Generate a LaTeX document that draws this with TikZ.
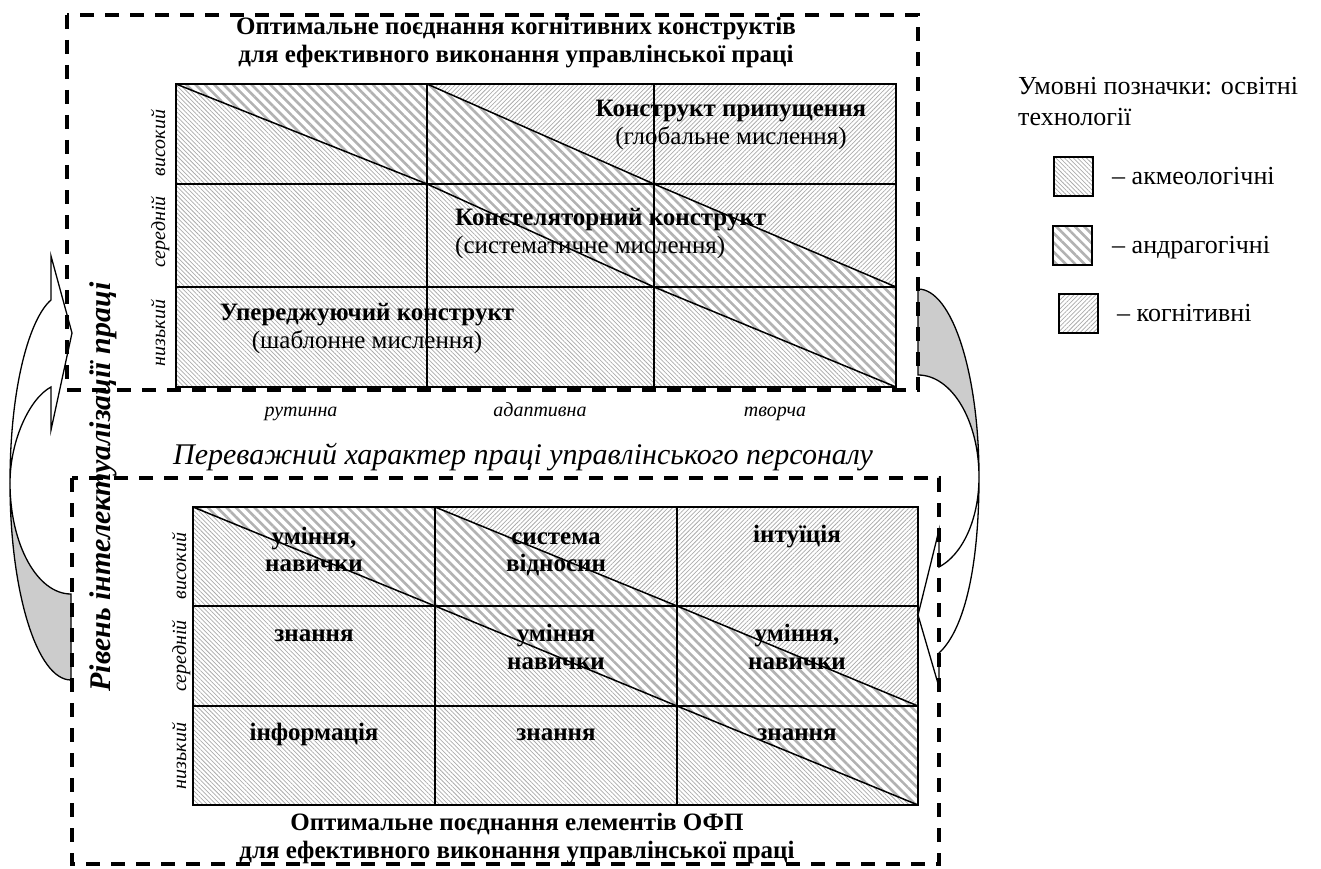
\documentclass[tikz,border=0pt]{standalone}
\usepackage{fontspec}
\setmainfont{Liberation Serif}
\usetikzlibrary{patterns.meta}
\tikzset{
  frameline/.style={line width=3.2pt, dash pattern=on 14pt off 11pt},
  gridline/.style={line width=1.7pt},
  diagline/.style={line width=1.5pt},
  akmeo/.style={pattern={Lines[angle=-45,distance=3.1pt,line width=0.75pt]}, pattern color=black!33},
  andrago/.style={pattern={Lines[angle=-45,distance=6.6pt,line width=2.6pt]}, pattern color=black!30},
  kognit/.style={pattern={Lines[angle=45,distance=3.1pt,line width=0.75pt]}, pattern color=black!33},
  titletext/.style={font=\fontsize{25}{29}\selectfont\bfseries, anchor=base, inner sep=0pt},
  boldtext/.style={font=\fontsize{25}{29}\selectfont\bfseries, anchor=base, inner sep=0pt},
  plaintext/.style={font=\fontsize{25}{29}\selectfont, anchor=base, inner sep=0pt},
  legendtext/.style={font=\fontsize{26}{30}\selectfont, anchor=base west, inner sep=0pt},
  levellabel/.style={font=\fontsize{20}{24}\selectfont\itshape, rotate=90, anchor=base, inner sep=0pt},
  worklabel/.style={font=\fontsize{20}{24}\selectfont\itshape, anchor=base, inner sep=0pt},
  bendarrow/.style={line width=1.3pt, line join=miter},
  legendbox/.style={draw, line width=2pt, minimum size=39pt, inner sep=0pt}
}

\begin{document}
\begin{tikzpicture}[x=1pt,y=-1pt]
\useasboundingbox (0,0) rectangle (1321,869);

% top matrix: cognitive constructs
\path[kognit] (427,84) -- (896,84) -- (896,287) -- (654,184) -- cycle;
\path[andrago] (176,84) -- (427,84) -- (654,184) -- (896,287) -- (896,387) -- (654,287) -- (427,184) -- cycle;
\path[akmeo] (176,84) -- (427,184) -- (654,287) -- (896,387) -- (176,387) -- cycle;
\draw[gridline] (176,84) rectangle (896,387);
\foreach \gx in {427,654} \draw[gridline] (\gx,84) -- (\gx,387);
\foreach \gy in {184,287} \draw[gridline] (176,\gy) -- (896,\gy);
\draw[diagline] (176,84) -- (427,184) -- (654,287) -- (896,387);
\draw[diagline] (427,84) -- (654,184) -- (896,287);

\node[titletext] (toptitleA) at (516,35) {Оптимальне поєднання когнітивних конструктів};
\node[titletext] (toptitleB) at (516,63) {для ефективного виконання управлінської праці};
\node[boldtext] (supposeA) at (731,117) {Конструкт припущення};
\node[plaintext] (supposeB) at (731,145) {(глобальне мислення)};
\node[boldtext, anchor=base west] (constelA) at (455,225) {Констеляторний конструкт};
\node[plaintext, anchor=base west] (constelB) at (455,253) {(систематичне мислення)};
\node[boldtext] (anticipA) at (367,320) {Упереджуючий конструкт};
\node[plaintext] (anticipB) at (367,348) {(шаблонне мислення)};

\node[levellabel] (topHigh) at (165,143) {високий};
\node[levellabel] (topMid) at (165,232) {середній};
\node[levellabel] (topLow) at (165,333) {низький};
\node[worklabel] (routine) at (301,416) {рутинна};
\node[worklabel] (adaptive) at (540,416) {адаптивна};
\node[worklabel] (creative) at (775,416) {творча};
\node[plaintext, font=\fontsize{30}{34}\selectfont\itshape] (workaxis) at (523,464) {Переважний характер праці управлінського персоналу};

% bottom matrix: elements of OFP
\path[kognit] (435,507) -- (918,507) -- (918,706) -- (677,606) -- cycle;
\path[andrago] (193,507) -- (435,507) -- (677,606) -- (918,706) -- (918,805) -- (677,706) -- (435,606) -- cycle;
\path[akmeo] (193,507) -- (435,606) -- (677,706) -- (918,805) -- (193,805) -- cycle;
\draw[gridline] (193,507) rectangle (918,805);
\foreach \gx in {435,677} \draw[gridline] (\gx,507) -- (\gx,805);
\foreach \gy in {606,706} \draw[gridline] (193,\gy) -- (918,\gy);
\draw[diagline] (193,507) -- (435,606) -- (677,706) -- (918,805);
\draw[diagline] (435,507) -- (677,606) -- (918,706);

\node[boldtext] (skillsA) at (314,544) {уміння,};
\node[boldtext] (skillsB) at (314,571) {навички};
\node[boldtext] (relationA) at (556,544) {система};
\node[boldtext] (relationB) at (556,571) {відносин};
\node[boldtext] (intuition) at (797,542) {інтуїція};
\node[boldtext] (knowMid) at (314,641) {знання};
\node[boldtext] (skillsMidA) at (556,641) {уміння};
\node[boldtext] (skillsMidB) at (556,669) {навички};
\node[boldtext] (skillsTopA) at (797,641) {уміння,};
\node[boldtext] (skillsTopB) at (797,669) {навички};
\node[boldtext] (information) at (314,740) {інформація};
\node[boldtext] (knowLowA) at (556,740) {знання};
\node[boldtext] (knowLowB) at (797,740) {знання};

\node[levellabel] (botHigh) at (186,566) {високий};
\node[levellabel] (botMid) at (186,656) {середній};
\node[levellabel] (botLow) at (186,756) {низький};
\node[titletext] (bottitleA) at (517,830) {Оптимальне поєднання елементів ОФП};
\node[titletext] (bottitleB) at (517,858) {для ефективного виконання управлінської праці};

\node[plaintext, font=\fontsize{30}{34}\selectfont\bfseries\itshape, rotate=90] (intelaxis) at (110,487) {Рівень інтелектуалізації праці};

% curved arrows
\filldraw[bendarrow, fill=black!20] (71,680) .. controls (37,680) and (10,592) .. (10,483)
  .. controls (10,544) and (37,594) .. (71,594) -- cycle;
\filldraw[bendarrow, fill=white] (10,483) .. controls (10,385) and (30,318) .. (51,300)
  -- (51,256) -- (72,333) -- (51,430) -- (51,387) .. controls (30,398) and (10,440) .. (10,483);
\filldraw[bendarrow, fill=black!20] (918,289) .. controls (952,289) and (979,373) .. (979,477)
  .. controls (979,421) and (952,375) .. (918,375) -- cycle;
\filldraw[bendarrow, fill=white] (979,477) .. controls (979,575) and (962,632) .. (939,653)
  -- (939,687) -- (918,615) -- (939,530) -- (939,567) .. controls (962,555) and (979,520) .. (979,477);

% dashed frames
\draw[frameline] (67,15) rectangle (918,390);
\draw[frameline] (72,478) rectangle (939,864);

% legend
\node[legendtext] (legendA) at (1018,95) {Умовні позначки: освітні};
\node[legendtext] (legendB) at (1018,126) {технології};
\node[legendbox, akmeo] (boxAkmeo) at (1073.5,176.5) {};
\node[legendbox, andrago] (boxAndrago) at (1072.5,245.5) {};
\node[legendbox, kognit] (boxKognit) at (1078,313) {};
\node[legendtext] (labAkmeo) at (1112,185) {– акмеологічні};
\node[legendtext] (labAndrago) at (1112,253) {– андрагогічні};
\node[legendtext] (labKognit) at (1117,321) {– когнітивні};
\end{tikzpicture}
\end{document}
